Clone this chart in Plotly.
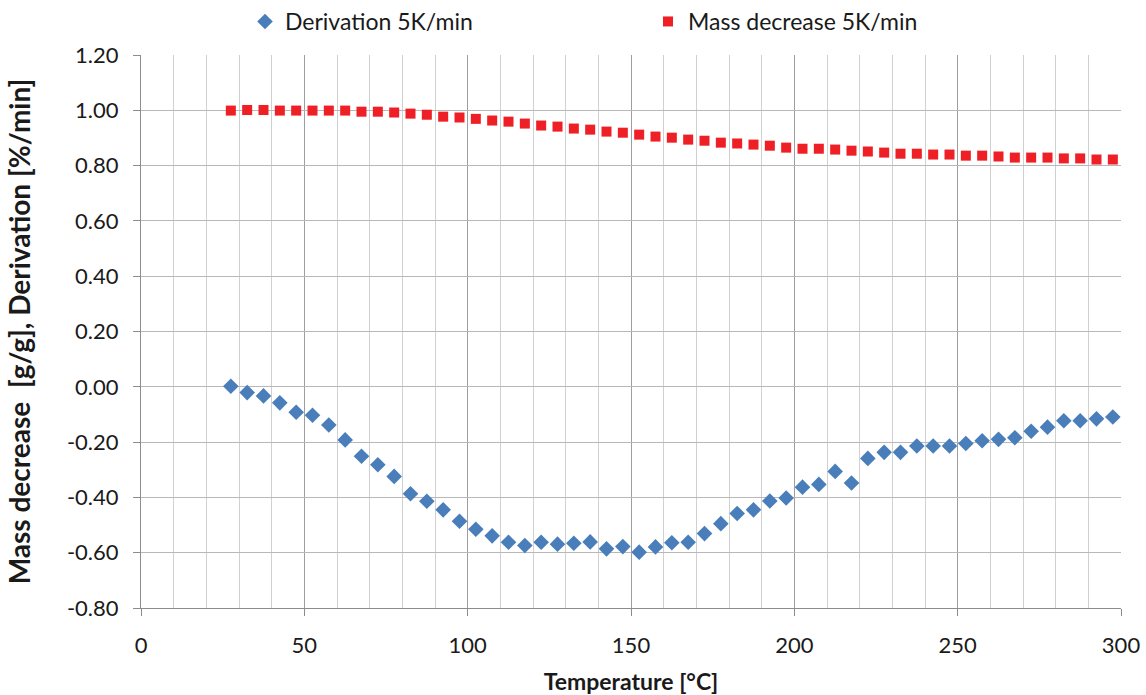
import plotly.graph_objects as go

temperature = [27.5 + 5 * i for i in range(55)]

mass_decrease = [
    0.999, 1.001, 1.001, 0.999, 0.999, 0.999, 0.999, 0.999, 0.995, 0.995,
    0.992, 0.988, 0.984, 0.977, 0.974, 0.969, 0.963, 0.959, 0.952, 0.945,
    0.941, 0.934, 0.930, 0.923, 0.919, 0.912, 0.905, 0.901, 0.894, 0.890,
    0.883, 0.880, 0.876, 0.872, 0.865, 0.861, 0.861, 0.858, 0.854, 0.851,
    0.847, 0.843, 0.843, 0.840, 0.840, 0.836, 0.836, 0.833, 0.829, 0.829,
    0.829, 0.826, 0.826, 0.822, 0.822,
]

derivation = [
    0.002, -0.021, -0.033, -0.058, -0.092, -0.103, -0.138, -0.192, -0.251, -0.282,
    -0.324, -0.387, -0.414, -0.445, -0.486, -0.515, -0.539, -0.562, -0.574, -0.562,
    -0.569, -0.566, -0.561, -0.586, -0.578, -0.598, -0.579, -0.564, -0.562, -0.531,
    -0.495, -0.458, -0.445, -0.413, -0.402, -0.363, -0.353, -0.306, -0.348, -0.259,
    -0.237, -0.237, -0.214, -0.214, -0.214, -0.205, -0.195, -0.190, -0.184, -0.161,
    -0.146, -0.123, -0.123, -0.116, -0.109,
]

y_ticks = [1.2, 1.0, 0.8, 0.6, 0.4, 0.2, 0.0, -0.2, -0.4, -0.6, -0.8]
y_tick_labels = ["1.20", "1.00", "0.80", "0.60", "0.40", "0.20", "0.00",
                 "-0.20", "-0.40", "-0.60", "-0.80"]
x_ticks = [0, 50, 100, 150, 200, 250, 300]

FONT = "Lato"
TEXT = "#1a1a1a"

fig = go.Figure()
fig.add_trace(go.Scatter(
    x=temperature, y=derivation, mode="markers", name="Derivation 5K/min",
    marker=dict(symbol="diamond", size=12, color="#4A7EBB"),
))
fig.add_trace(go.Scatter(
    x=temperature, y=mass_decrease, mode="markers", name="Mass decrease 5K/min",
    marker=dict(symbol="square", size=10, color="#EE1F25"),
))

fig.update_layout(
    width=1146, height=695,
    margin=dict(l=141, r=25, t=55, b=87),
    paper_bgcolor="white", plot_bgcolor="white",
    font=dict(family=FONT, size=22, color=TEXT),
    showlegend=True,
    legend=dict(
        orientation="h", xref="container", yref="container",
        x=245 / 1146, y=1.0, xanchor="left", yanchor="top",
        font=dict(family=FONT, size=23, color=TEXT),
        entrywidth=358, entrywidthmode="pixels",
        bgcolor="rgba(0,0,0,0)",
    ),
    xaxis=dict(
        range=[0, 300], tickvals=x_ticks, ticks="outside", ticklen=7,
        tickcolor="#8c8c8c", showline=True, linecolor="#8c8c8c", linewidth=1,
        showgrid=True, gridcolor="#9e9e9e", gridwidth=1, zeroline=False,
        minor=dict(dtick=10, showgrid=True, gridcolor="#d0d0d0", gridwidth=1, ticks=""),
        tickfont=dict(family=FONT, size=22, color=TEXT),
        ticklabelstandoff=11,
        title=dict(text="<b>Temperature [°C]</b>", font=dict(family=FONT, size=23, color=TEXT), standoff=19),
        automargin=False,
    ),
    yaxis=dict(
        range=[-0.8, 1.2], tickvals=y_ticks, ticktext=y_tick_labels,
        ticks="outside", ticklen=7, tickcolor="#8c8c8c",
        showline=True, linecolor="#8c8c8c", linewidth=1,
        showgrid=True, gridcolor="#b8b8b8", gridwidth=1, zeroline=False,
        tickfont=dict(family=FONT, size=22, color=TEXT),
        ticklabelstandoff=10,
        title=dict(text="<b>Mass decrease  [g/g], Derivation [%/min]</b>",
                   font=dict(family=FONT, size=28, color=TEXT), standoff=28),
        automargin=False,
    ),
)

fig.write_html("out.html", config={"displayModeBar": False})
